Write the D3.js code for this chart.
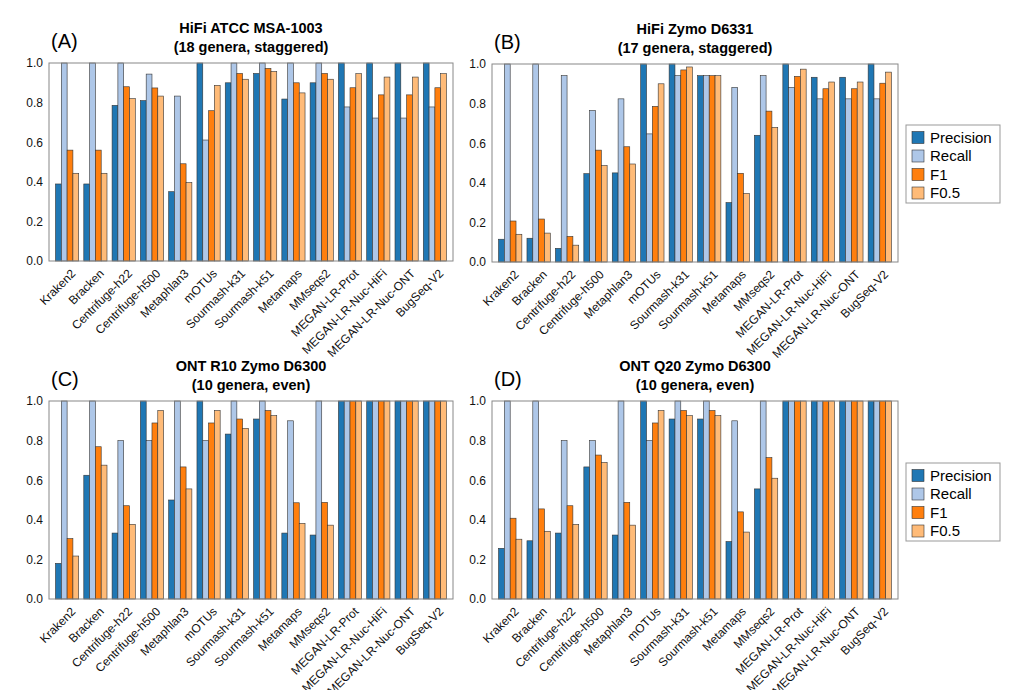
<!DOCTYPE html>
<html>
<head>
<meta charset="utf-8">
<script src="https://cdn.jsdelivr.net/npm/d3@7"></script>
<style>
  body { margin: 0; background: #fff; }
  svg { font-family: "Liberation Sans", Arial, sans-serif; }
  .axis path { stroke: none; }
  .axis text { fill: #111; }
</style>
</head>
<body>
<div id="chart"></div>
<script>
// Data
var tools = ["Kraken2", "Bracken", "Centrifuge-h22", "Centrifuge-h500", "Metaphlan3", "mOTUs",
  "Sourmash-k31", "Sourmash-k51", "Metamaps", "MMseqs2", "MEGAN-LR-Prot", "MEGAN-LR-Nuc-HiFi",
  "MEGAN-LR-Nuc-ONT", "BugSeq-V2"];
var metrics = ["Precision", "Recall", "F1", "F0.5"];
var yTicks = [0, 0.2, 0.4, 0.6, 0.8, 1.0];

// (A) HiFi ATCC MSA-1003
var precisionA = [0.389, 0.389, 0.786, 0.81, 0.35, 1.0, 0.9, 0.947, 0.818, 0.9, 1.0, 1.0, 1.0, 1.0];
var recallA = [1.0, 1.0, 1.0, 0.944, 0.833, 0.611, 1.0, 1.0, 1.0, 1.0, 0.778, 0.722, 0.722, 0.778];
var f1A = [0.56, 0.56, 0.88, 0.874, 0.491, 0.759, 0.947, 0.973, 0.9, 0.947, 0.875, 0.839, 0.839, 0.875];
var f05A = [0.443, 0.443, 0.82, 0.833, 0.396, 0.887, 0.918, 0.957, 0.849, 0.918, 0.946, 0.929, 0.929, 0.946];

// (B) HiFi Zymo D6331
var precisionB = [0.115, 0.12, 0.069, 0.446, 0.45, 1.0, 1.0, 0.941, 0.3, 0.64, 1.0, 0.933, 0.933, 1.0];
var recallB = [1.0, 1.0, 0.941, 0.765, 0.824, 0.647, 0.941, 0.941, 0.882, 0.941, 0.882, 0.824, 0.824, 0.824];
var f1B = [0.207, 0.217, 0.129, 0.565, 0.582, 0.786, 0.97, 0.941, 0.448, 0.762, 0.9375, 0.875, 0.875, 0.903];
var f05B = [0.14, 0.146, 0.085, 0.487, 0.495, 0.9, 0.985, 0.941, 0.346, 0.68, 0.974, 0.909, 0.909, 0.959];

// (C) ONT R10 Zymo D6300
var precisionC = [0.18, 0.625, 0.333, 1.0, 0.5, 1.0, 0.833, 0.909, 0.333, 0.323, 1.0, 1.0, 1.0, 1.0];
var recallC = [1.0, 1.0, 0.8, 0.8, 1.0, 0.8, 1.0, 1.0, 0.9, 1.0, 1.0, 1.0, 1.0, 1.0];
var f1C = [0.305, 0.769, 0.471, 0.889, 0.667, 0.889, 0.909, 0.952, 0.486, 0.488, 1.0, 1.0, 1.0, 1.0];
var f05C = [0.217, 0.676, 0.377, 0.952, 0.556, 0.952, 0.862, 0.926, 0.382, 0.373, 1.0, 1.0, 1.0, 1.0];

// (D) ONT Q20 Zymo D6300
var precisionD = [0.256, 0.294, 0.333, 0.667, 0.323, 1.0, 0.909, 0.909, 0.29, 0.556, 1.0, 1.0, 1.0, 1.0];
var recallD = [1.0, 1.0, 0.8, 0.8, 1.0, 0.8, 1.0, 1.0, 0.9, 1.0, 1.0, 1.0, 1.0, 1.0];
var f1D = [0.408, 0.455, 0.471, 0.727, 0.488, 0.889, 0.952, 0.952, 0.44, 0.714, 1.0, 1.0, 1.0, 1.0];
var f05D = [0.302, 0.342, 0.377, 0.69, 0.373, 0.952, 0.926, 0.926, 0.338, 0.61, 1.0, 1.0, 1.0, 1.0];

var colors = ["#1f77b4", "#aec7e8", "#ff7f0e", "#ffbb78"];

var panels = [
  { tag: "(A)", title: ["HiFi ATCC MSA-1003", "(18 genera, staggered)"],
    series: [precisionA, recallA, f1A, f05A], x0: 49, x1: 453, y0: 63, y1: 261 },
  { tag: "(B)", title: ["HiFi Zymo D6331", "(17 genera, staggered)"],
    series: [precisionB, recallB, f1B, f05B], x0: 492, x1: 898, y0: 64, y1: 262 },
  { tag: "(C)", title: ["ONT R10 Zymo D6300", "(10 genera, even)"],
    series: [precisionC, recallC, f1C, f05C], x0: 49, x1: 453, y0: 401, y1: 599 },
  { tag: "(D)", title: ["ONT Q20 Zymo D6300", "(10 genera, even)"],
    series: [precisionD, recallD, f1D, f05D], x0: 492, x1: 898, y0: 401, y1: 599 },
];

var svg = d3.select("#chart").append("svg")
  .attr("width", 1025)
  .attr("height", 690);

var colorScale = d3.scaleOrdinal().domain(metrics).range(colors);

panels.forEach(function (p) {
  var w = p.x1 - p.x0;
  var h = p.y1 - p.y0;

  var xScale = d3.scaleBand()
    .domain(tools)
    .range([0, w])
    .paddingInner(0.18)
    .paddingOuter(0.23);

  var xScaleBars = d3.scaleBand()
    .domain(metrics)
    .range([0, xScale.bandwidth()]);

  var yScale = d3.scaleLinear().domain([0, 1]).range([h, 0]);

  var g = svg.append("g").attr("transform", "translate(" + p.x0 + "," + p.y0 + ")");

  // titles
  g.append("text")
    .attr("x", w / 2)
    .attr("y", -30)
    .attr("text-anchor", "middle")
    .style("font-size", "14.5px")
    .style("font-weight", "bold")
    .text(p.title[0]);
  g.append("text")
    .attr("x", w / 2)
    .attr("y", -11)
    .attr("text-anchor", "middle")
    .style("font-size", "14.5px")
    .style("font-weight", "bold")
    .text(p.title[1]);
  g.append("text")
    .attr("x", 2)
    .attr("y", -15)
    .style("font-size", "20px")
    .text(p.tag);

  // bars
  var rows = tools.map(function (t, i) {
    return { tool: t, values: metrics.map(function (m, k) { return { metric: m, value: p.series[k][i] }; }) };
  });

  var groups = g.selectAll(".group")
    .data(rows)
    .enter()
    .append("g")
    .attr("class", "group")
    .attr("transform", function (d) { return "translate(" + xScale(d.tool) + ",0)"; });

  groups.selectAll("rect")
    .data(function (d) { return d.values; })
    .enter()
    .append("rect")
    .attr("x", function (d) { return xScaleBars(d.metric); })
    .attr("y", function (d) { return yScale(d.value); })
    .attr("width", xScaleBars.bandwidth())
    .attr("height", function (d) { return h - yScale(d.value); })
    .style("fill", function (d) { return colorScale(d.metric); })
    .style("stroke", "#333")
    .style("stroke-width", 0.6);

  // frame
  g.append("rect")
    .attr("width", w)
    .attr("height", h)
    .style("fill", "none")
    .style("stroke", "#888")
    .style("stroke-width", 1);

  // axes
  var yAxis = d3.axisLeft(yScale)
    .tickValues(yTicks)
    .tickSize(0)
    .tickPadding(6)
    .tickFormat(d3.format(".1f"));
  g.append("g").attr("class", "y axis").call(yAxis)
    .selectAll("text").style("font-size", "12px");

  var xAxis = d3.axisBottom(xScale).tickSize(0).tickPadding(0);
  g.append("g").attr("class", "x axis")
    .attr("transform", "translate(0," + h + ")")
    .call(xAxis)
    .selectAll("text")
    .style("font-size", "12px")
    .style("text-anchor", "end")
    .attr("dy", 0)
    .attr("y", 0)
    .attr("transform", "translate(3,7) rotate(-45)")
    .attr("dominant-baseline", "hanging");
});

// legends
[125, 463].forEach(function (top) {
  var lg = svg.append("g").attr("transform", "translate(906," + top + ")");
  lg.append("rect")
    .attr("width", 94)
    .attr("height", 78)
    .style("fill", "#fff")
    .style("stroke", "#999")
    .style("stroke-width", 1);
  var items = lg.selectAll(".item")
    .data(metrics)
    .enter()
    .append("g")
    .attr("class", "item")
    .attr("transform", function (d, i) { return "translate(6," + (12.5 + i * 18.5) + ")"; });
  items.append("rect")
    .attr("y", -6)
    .attr("width", 12)
    .attr("height", 12)
    .style("fill", function (d) { return colorScale(d); })
    .style("stroke", "#333")
    .style("stroke-width", 0.6);
  items.append("text")
    .attr("x", 18)
    .attr("dy", "0.35em")
    .style("font-size", "15px")
    .text(function (d) { return d; });
});
</script>
</body>
</html>
